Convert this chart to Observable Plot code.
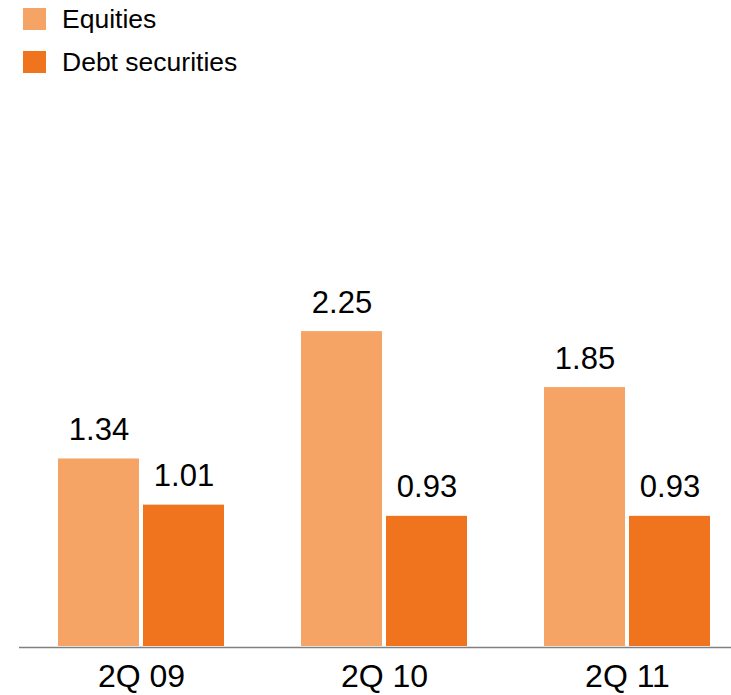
<!DOCTYPE html>
<html><head><meta charset="utf-8">
<script src="https://cdn.jsdelivr.net/npm/d3@7"></script>
<script src="https://cdn.jsdelivr.net/npm/@observablehq/plot@0.6"></script>
<style>
body{margin:0;background:#fff;font-family:"Liberation Sans",Arial,sans-serif;}
#legend{height:96px;position:relative}
.item{position:absolute;left:23px;height:22px;display:flex;align-items:center;font-size:26.5px;line-height:22px;color:#000;white-space:nowrap}
.sw{width:23px;height:22px;margin-right:16px;flex:none}
</style></head><body>
<div id="legend"></div><div id="chart"></div>
<script>
const quarters = ["2Q 09", "2Q 10", "2Q 11"];
const series = ["Equities", "Debt securities"];
const equities = [1.34, 2.25, 1.85];
const debt = [1.01, 0.93, 0.93];
const colors = ["#F6A465", "#F0731E"];

const rows = quarters.flatMap((q, i) => [
  {quarter: q, series: series[0], value: equities[i]},
  {quarter: q, series: series[1], value: debt[i]}
]);
const eqRows = rows.filter(d => d.series === series[0]);
const dbRows = rows.filter(d => d.series === series[1]);

// legend
const legend = document.getElementById("legend");
series.forEach((s, i) => {
  const it = document.createElement("div");
  it.className = "item";
  it.style.top = (8 + i * 43) + "px";
  const sw = document.createElement("span");
  sw.className = "sw";
  sw.style.background = colors[i];
  it.appendChild(sw);
  it.appendChild(document.createTextNode(s));
  legend.appendChild(it);
});

const half = 85;
const chart = Plot.plot({
  width: 731,
  height: 599,
  marginLeft: 57,
  marginRight: 21,
  marginTop: 0,
  marginBottom: 49,
  style: {fontFamily: '"Liberation Sans", Arial, sans-serif', color: "#000", background: "#fff"},
  x: {domain: quarters, paddingInner: 0.318, paddingOuter: 0, label: null},
  y: {domain: [0, 3.93], axis: null},
  color: {domain: series, range: colors},
  marks: [
    Plot.barY(eqRows, {x: "quarter", y: "value", fill: "series", insetRight: half}),
    Plot.barY(dbRows, {x: "quarter", y: "value", fill: "series", insetLeft: half}),
    Plot.text(eqRows, {x: "quarter", y: "value", text: d => d.value.toFixed(2), dx: -42.5, dy: -19, lineAnchor: "bottom", fontSize: 31, fill: "#000"}),
    Plot.text(dbRows, {x: "quarter", y: "value", text: d => d.value.toFixed(2), dx: 42.5, dy: -19, lineAnchor: "bottom", fontSize: 31, fill: "#000"}),
    Plot.ruleY([0], {stroke: "#808080", strokeWidth: 1.6, insetLeft: -38, insetRight: -21, dy: 1}),
    Plot.axisX({tickSize: 0, tickPadding: 18, fontSize: 32, label: null})
  ]
});
document.getElementById("chart").appendChild(chart);
</script>
</body></html>
